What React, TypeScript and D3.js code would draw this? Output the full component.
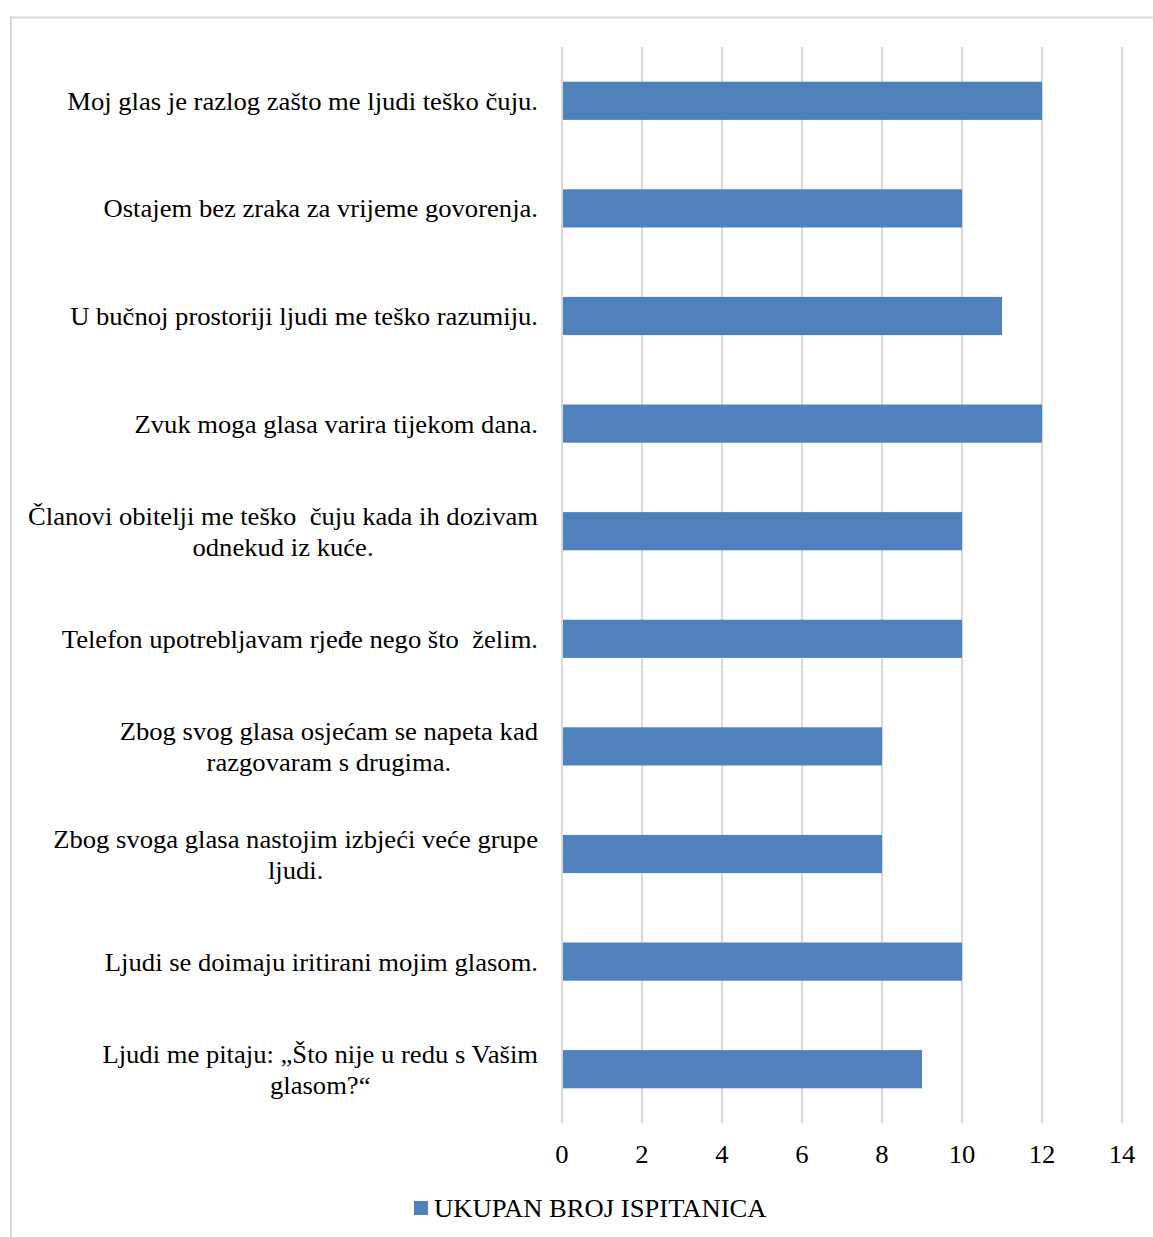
import React, { useEffect, useRef } from "react";
import * as d3 from "d3";

const categories: string[][] = [
  ["Moj glas je razlog zašto me ljudi teško čuju."],
  ["Ostajem bez zraka za vrijeme govorenja."],
  ["U bučnoj prostoriji ljudi me teško razumiju."],
  ["Zvuk moga glasa varira tijekom dana."],
  ["Članovi obitelji me teško  čuju kada ih dozivam", "odnekud iz kuće."],
  ["Telefon upotrebljavam rjeđe nego što  želim."],
  ["Zbog svog glasa osjećam se napeta kad", "razgovaram s drugima."],
  ["Zbog svoga glasa nastojim izbjeći veće grupe", "ljudi."],
  ["Ljudi se doimaju iritirani mojim glasom."],
  ["Ljudi me pitaju: „Što nije u redu s Vašim", "glasom?“"],
];
const values: number[] = [12, 10, 11, 12, 10, 10, 8, 8, 10, 9];
const xTicks: number[] = [0, 2, 4, 6, 8, 10, 12, 14];
const seriesName = "UKUPAN BROJ ISPITANICA";

const W = 1153;
const H = 1237;
const FONT = "'Liberation Serif', 'Times New Roman', serif";
const FS = 25;
const SX = 1.065;

export default function App() {
  const ref = useRef<SVGSVGElement>(null);
  useEffect(() => {
    const svg = d3.select(ref.current);
    svg.selectAll("*").remove();

    const addText = (g: any, tx: number, ty: number, s: string, anchor: string) => {
      const t = g.append("text")
        .attr("transform", `translate(${tx},${ty}) scale(${SX},1)`)
        .attr("text-anchor", anchor)
        .attr("font-family", FONT).attr("font-size", FS).attr("fill", "#000")
        .style("white-space", "pre")
        .attr("xml:space", "preserve")
        .text(s);
      return t;
    };

    // frame
    svg.append("rect").attr("x", 11).attr("y", 17.5).attr("width", W + 20).attr("height", H + 20)
      .attr("fill", "white").attr("stroke", "#d9d9d9").attr("stroke-width", 2);

    const x = d3.scaleLinear().domain([0, 14]).range([562, 1122]);
    const idx = categories.map((_, i) => i);
    const y = d3.scaleBand<number>().domain(idx).range([47, 1123]).paddingInner(0.645).paddingOuter(0.3225);

    // gridlines
    svg.append("g").selectAll("line").data(xTicks).join("line")
      .attr("x1", d => x(d)).attr("x2", d => x(d))
      .attr("y1", 47).attr("y2", 1123)
      .attr("stroke", "#d9d9d9").attr("stroke-width", 2);

    // bars
    svg.append("g").selectAll("rect").data(values).join("rect")
      .attr("x", x(0) + 1)
      .attr("y", (_, i) => y(i)!)
      .attr("width", d => x(d) - x(0) - 1)
      .attr("height", y.bandwidth())
      .attr("fill", "#4f81bd");

    // tick labels
    const tg = svg.append("g");
    xTicks.forEach(d => addText(tg, x(d), 1163, String(d), "middle"));

    // category labels
    const labelRight = 538;
    const lineH = 31;
    categories.forEach((lines, i) => {
      const cy = y(i)! + y.bandwidth() / 2;
      const g = svg.append("g");
      const ys = lines.map((_, j) => cy + (j - (lines.length - 1) / 2) * lineH + 9);
      const texts = lines.map((ln, j) => addText(g, 0, ys[j], ln, "middle"));
      const widths = texts.map((t: any) => (t.node() as SVGTextElement).getComputedTextLength() * SX);
      const maxW = Math.max(...widths);
      const cx = labelRight - maxW / 2;
      texts.forEach((t: any, j: number) => t.attr("transform", `translate(${cx},${ys[j]}) scale(${SX},1)`));
    });

    // legend
    const lg = svg.append("g");
    lg.append("rect").attr("x", 414).attr("y", 1201).attr("width", 14).attr("height", 14).attr("fill", "#4f81bd");
    addText(lg, 434, 1217, seriesName, "start");
  }, []);

  return (
    <svg ref={ref} width={W} height={H}
      style={{ position: "absolute", left: 0, top: 0, background: "white" }} />
  );
}
